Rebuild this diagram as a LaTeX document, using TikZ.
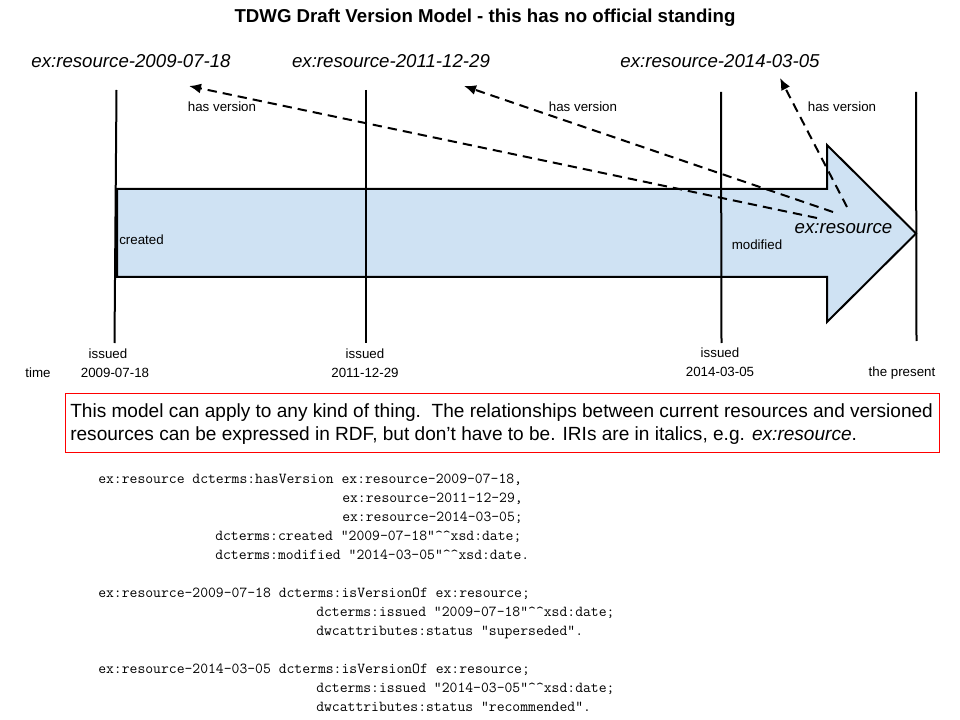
\documentclass[tikz,border=0pt]{standalone}
\usepackage{fontspec}
\setmainfont{Liberation Sans}
\usetikzlibrary{arrows.meta}
\definecolor{arrowfill}{HTML}{CFE2F3}
\definecolor{boxred}{HTML}{FF0000}
\newcommand\hatpair{\textasciicircum\textasciicircum}
\begin{document}
\begin{tikzpicture}[x=0.75pt,y=-0.75pt,
  every node/.style={inner sep=0pt},
  titletext/.style={font=\fontsize{14}{16}\selectfont\bfseries},
  small/.style={font=\fontsize{10}{12}\selectfont},
  iri/.style={font=\fontsize{14}{16}\selectfont\itshape},
  note/.style={font=\fontsize{14.3}{16}\selectfont, anchor=base west},
  code/.style={font=\fontsize{11.43}{14}\selectfont\ttfamily, anchor=base west},
  timeline/.style={line width=1.5pt},
  bigarrow/.style={draw=black, fill=arrowfill, line width=1.5pt, line join=miter},
  verlink/.style={line width=1.5pt, dash pattern=on 7pt off 4.5pt, -{Latex[length=9pt,width=7.5pt]}},
  redbox/.style={draw=boxred, line width=0.75pt}
]
\path[use as bounding box] (0,0) rectangle (960,720);

% title
\node[titletext] (title) at (485,18) {TDWG Draft Version Model - this has no official standing};

% big arrow
\draw[bigarrow] (117,189) -- (827,189) -- (827,145) -- (916,233.5) -- (827,322) -- (827,277) -- (117,277) -- cycle;

% time lines
\coordinate (l1t) at (116.5,90);  \coordinate (l1b) at (114.5,343);
\coordinate (l2t) at (366,90);    \coordinate (l2b) at (366,343);
\coordinate (l3t) at (721,92);    \coordinate (l3b) at (721.5,343);
\coordinate (l4t) at (916,92);    \coordinate (l4b) at (916.5,341);
\draw[timeline] (l1t) -- (l1b);
\draw[timeline] (l2t) -- (l2b);
\draw[timeline] (l3t) -- (l3b);
\draw[timeline] (l4t) -- (l4b);

% version labels
\node[iri] (v1) at (131,61) {ex:resource-2009-07-18};
\node[iri] (v2) at (391,61) {ex:resource-2011-12-29};
\node[iri] (v3) at (720,61) {ex:resource-2014-03-05};
\node[iri] (res) at (843.5,229) {ex:resource};

% has version links
\coordinate (s1) at (817,218); \coordinate (t1) at (189,86);
\coordinate (s2) at (833,212); \coordinate (t2) at (464,86);
\coordinate (s3) at (847,207); \coordinate (t3) at (780,78);
\draw[verlink] (s1) -- (t1);
\draw[verlink] (s2) -- (t2);
\draw[verlink] (s3) -- (t3);
\node[small] (hv1) at (222,107) {has version};
\node[small] (hv2) at (583,107) {has version};
\node[small] (hv3) at (842,107) {has version};

% arrow labels
\node[small, anchor=west] (created) at (119,240) {created};
\node[small] (modified) at (757,245) {modified};

% time axis labels
\node[small] (time) at (38,373) {time};
\node[small] (is1) at (108,354) {issued};
\node[small] (d1) at (115,373) {2009-07-18};
\node[small] (is2) at (365,354) {issued};
\node[small] (d2) at (365,373) {2011-12-29};
\node[small] (is3) at (720,353) {issued};
\node[small] (d3) at (720,372) {2014-03-05};
\node[small] (present) at (902,373) {the present};

% note box
\draw[redbox] (65,393) rectangle (939,452);
\node[note] (n1) at (70,417) {This model can apply to any kind of thing.\ \ The relationships between current resources and versioned};
\node[note] (n2) at (70,440) {resources can be expressed in RDF, but don’t have to be. IRIs are in italics, e.g. \textit{ex:resource}.};

% turtle code
\node[code] (c1) at (98,483) {ex:resource dcterms:hasVersion ex:resource-2009-07-18,};
\node[code] (c2) at (342,502) {ex:resource-2011-12-29,};
\node[code] (c3) at (342,521) {ex:resource-2014-03-05;};
\node[code] (c4) at (215,540) {dcterms:created "2009-07-18"\hatpair xsd:date;};
\node[code] (c5) at (215,559) {dcterms:modified "2014-03-05"\hatpair xsd:date.};
\node[code] (c6) at (98,597) {ex:resource-2009-07-18 dcterms:isVersionOf ex:resource;};
\node[code] (c7) at (316,616) {dcterms:issued "2009-07-18"\hatpair xsd:date;};
\node[code] (c8) at (316,635) {dwcattributes:status "superseded".};
\node[code] (c9) at (98,673) {ex:resource-2014-03-05 dcterms:isVersionOf ex:resource;};
\node[code] (c10) at (316,692) {dcterms:issued "2014-03-05"\hatpair xsd:date;};
\node[code] (c11) at (316,711) {dwcattributes:status "recommended".};
\end{tikzpicture}
\end{document}
